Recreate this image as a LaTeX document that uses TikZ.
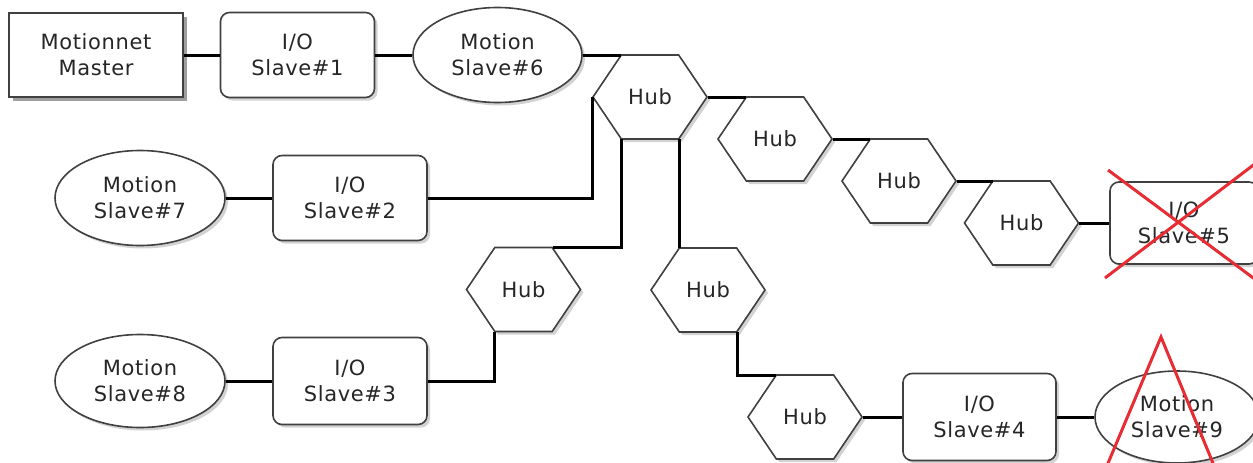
\documentclass[tikz,border=0pt]{standalone}
\usepackage{fontspec}
\setmainfont{DejaVu Sans}[LetterSpace=3]
\usepackage{tikz}
\usetikzlibrary{shapes,shapes.symbols,shadows,calc}
\definecolor{crossred}{RGB}{232,44,52}

\begin{document}
\begin{tikzpicture}[x=1pt,y=-1pt,
	textbox/.style={font=\fontsize{21}{26}\selectfont, text=black!85, draw=black!75, line width=1.6pt, fill=white, inner sep=0, align=center},
	softshadow/.style={drop shadow={shadow xshift=3pt, shadow yshift=-3pt, fill=black!35}},
	masterbox/.style={textbox, minimum width=174, minimum height=84, drop shadow={shadow xshift=4pt, shadow yshift=-4pt, fill=black!75}},
	iobox/.style={textbox, rounded corners=9pt, minimum width=154, minimum height=85, softshadow},
	motion/.style={textbox, ellipse, minimum width=169, minimum height=95, softshadow},
	hub/.style={textbox, signal, signal to=east and west, signal pointer angle=112, minimum width=114, minimum height=84, softshadow},
	link/.style={line width=3pt},
	redcross/.style={line width=3pt, draw=crossred}
]
\useasboundingbox (0,0) rectangle (1253,463);

%top row
\node[masterbox] (master) at (96,55) {Motionnet\\Master};
\node[iobox] (io1) at (297.5,55) {I/O\\Slave\#1};
\node[motion] (motion6) at (497.5,55) {Motion\\Slave\#6};

%hubs
\node[hub] (hub1) at (650,97) {Hub};
\node[hub] (hub2) at (775,139) {Hub};
\node[hub] (hub3) at (899,181) {Hub};
\node[hub] (hub4) at (1021.5,223) {Hub};
\node[hub] (hub5) at (523.5,289.5) {Hub};
\node[hub] (hub6) at (708,290) {Hub};
\node[hub] (hub7) at (805,417) {Hub};

\node[iobox, minimum width=148, minimum height=82] (io5) at (1184,223) {I/O\\Slave\#5};

\node[motion, minimum width=170] (motion7) at (140,198) {Motion\\Slave\#7};
\node[iobox] (io2) at (350,198) {I/O\\Slave\#2};

\node[motion, minimum width=170, minimum height=93] (motion8) at (140,381) {Motion\\Slave\#8};
\node[iobox, minimum height=87] (io3) at (350,381) {I/O\\Slave\#3};

\node[iobox, minimum width=153, minimum height=87] (io4) at (979.5,417) {I/O\\Slave\#4};
\node[motion, minimum width=164, minimum height=92] (motion9) at (1177,417) {Motion\\Slave\#9};

%hub corners
\foreach \h in {1,...,7} {
	\coordinate (hub\h tl) at ($(hub\h)+(-29,-42)$);
	\coordinate (hub\h tr) at ($(hub\h)+(29,-42)$);
	\coordinate (hub\h bl) at ($(hub\h)+(-29,42)$);
	\coordinate (hub\h br) at ($(hub\h)+(29,42)$);
}

\draw[link] (master) -- (io1);
\draw[link] (io1) -- (motion6);
\draw[link] (motion6.east) -- (hub1tl);
\draw[link] (hub1.east) -- (hub2tl);
\draw[link] (hub2.east) -- (hub3tl);
\draw[link] (hub3.east) -- (hub4tl);
\draw[link] (hub4.east) -- (io5.west);
\draw[link] (motion7) -- (io2);
\draw[link] (io2.east) -| (hub1.west);
\draw[link] (hub1bl) |- (hub5tr);
\draw[link] (hub1br) -- (hub6tl);
\draw[link] (motion8) -- (io3);
\draw[link] (hub5bl) |- (io3.east);
\draw[link] (hub6br) |- (hub7tl);
\draw[link] (hub7.east) -- (io4.west);
\draw[link] (io4) -- (motion9);

%crossed out
\draw[redcross] ($(io5)+(-76,-53)$) -- ($(io5)+(72,57)$);
\draw[redcross] ($(io5)+(-79,55)$) -- ($(io5)+(72,-60)$);
\draw[redcross] ($(motion9)+(-71,51)$) -- ($(motion9)+(-16,-80)$) -- ($(motion9)+(38,51)$);
\end{tikzpicture}
\end{document}
